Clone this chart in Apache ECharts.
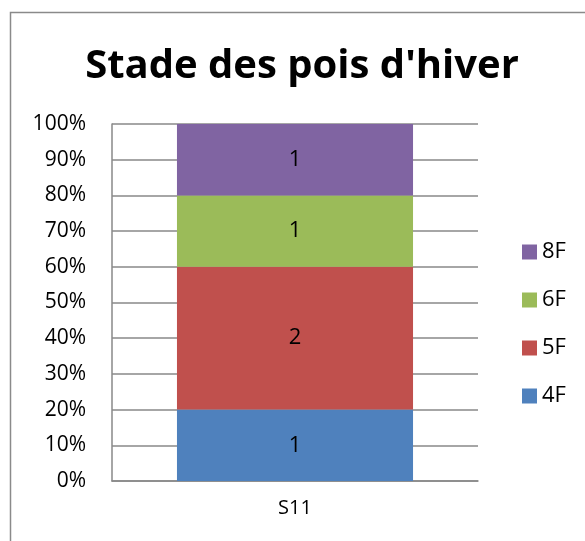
<!DOCTYPE html>
<html><head><meta charset="utf-8">
<script src="https://cdn.jsdelivr.net/npm/echarts@6/dist/echarts.min.js"></script>
<style>html,body{margin:0;padding:0;background:#fff}#c{width:585px;height:541px}</style>
</head><body><div id="c"></div>
<script>
const categories = ['S11'];
const s4F = [1];
const s5F = [2];
const s6F = [1];
const s8F = [1];
const yTicks = [0,10,20,30,40,50,60,70,80,90,100];

const seriesDefs = [
  {name:'4F', data:s4F, color:'#4F81BD'},
  {name:'5F', data:s5F, color:'#C0504D'},
  {name:'6F', data:s6F, color:'#9BBB59'},
  {name:'8F', data:s8F, color:'#8064A2'}
];
const totals = categories.map((c,i)=>seriesDefs.reduce((a,s)=>a+s.data[i],0));
const font = '"Open Sans", "Liberation Sans", sans-serif';

const chart = echarts.init(document.getElementById('c'));
chart.setOption({
  animation:false,
  backgroundColor:'#fff',
  textStyle:{fontFamily:font},
  title:{text:'Stade des pois d\'hiver', left:297, textAlign:'center', top:42,
    textStyle:{fontFamily:font, fontSize:40, fontWeight:'bold', color:'#000'}},
  graphic:[{type:'rect', shape:{x:10.5,y:12.5,width:700,height:700}, style:{fill:null, stroke:'#8a8a8a', lineWidth:1.5}, silent:true, z:-1}],
  grid:{left:112, right:107, top:124, bottom:60},
  legend:{orient:'vertical', left:517, top:236, itemWidth:15, itemHeight:15, itemGap:26,
    icon:'rect', data:['8F','6F','5F','4F'], textStyle:{fontSize:22, color:'#000', fontFamily:font}},
  xAxis:{type:'category', data:categories,
    axisLine:{lineStyle:{color:'#888', width:1.5}}, axisTick:{show:false},
    axisLabel:{fontSize:20, color:'#000', margin:17, fontFamily:font}},
  yAxis:{type:'value', min:0, max:100, interval:10,
    axisLine:{show:true, lineStyle:{color:'#888', width:1.5}}, axisTick:{show:false},
    splitLine:{lineStyle:{color:'#888', width:1.5}},
    axisLabel:{fontSize:21, color:'#000', margin:26, fontFamily:font,
      formatter:v=>yTicks.includes(v)?v+'%':''}},
  series: seriesDefs.map(s=>({
    name:s.name, type:'bar', stack:'total', barWidth:'64.5%',
    itemStyle:{color:s.color},
    data:s.data.map((v,i)=>({value:v/totals[i]*100, raw:v})),
    label:{show:true, position:'inside', fontSize:22, color:'#000', fontFamily:font,
      formatter:p=>String(s.data[p.dataIndex])}
  }))
});
</script></body></html>
